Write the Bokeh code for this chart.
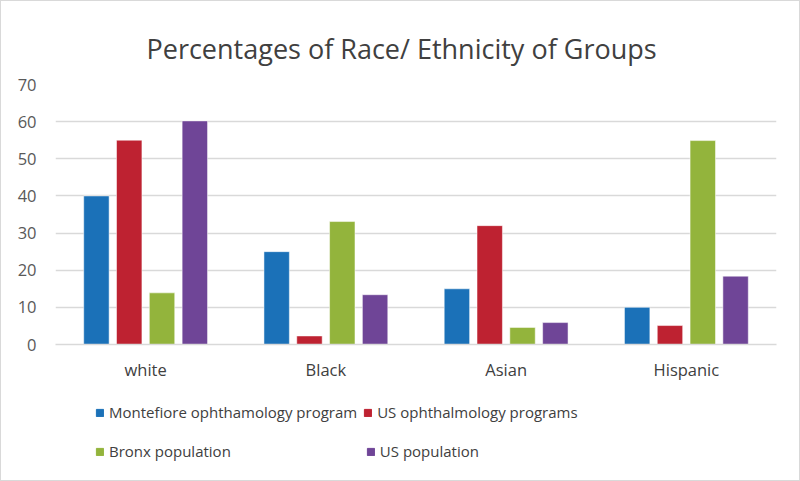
from bokeh.plotting import figure
from bokeh.layouts import column
from bokeh.models import Legend, LegendItem, FactorRange, Range1d
from bokeh.transform import dodge
from bokeh.embed import file_html
from bokeh.resources import INLINE
from bokeh.models import ColumnDataSource

categories = ["white", "Black", "Asian", "Hispanic"]
montefiore = [40, 25, 15, 10]
us_programs = [55, 2.3, 32, 5.1]
bronx = [13.9, 33.1, 4.6, 54.9]
us_population = [60.2, 13.4, 5.9, 18.4]
y_ticks = [0, 10, 20, 30, 40, 50, 60, 70]

series = [
    ("Montefiore ophthamology program", "m", "#1b71b8", -0.273),
    ("US ophthalmology programs", "u", "#be2231", -0.091),
    ("Bronx population", "b", "#93b43c", 0.091),
    ("US population", "p", "#6f4597", 0.273),
]

src = ColumnDataSource(dict(cat=categories, m=montefiore, u=us_programs,
                            b=bronx, p=us_population))

FONT = "Open Sans"
BORDER = "1px solid #d9d9d9"
p = figure(width=800, height=400,
           x_range=FactorRange(*categories, range_padding=0, factor_padding=0),
           y_range=Range1d(0, 70), output_backend="svg", toolbar_location=None,
           min_border_left=54, min_border_right=25, min_border_top=83,
           min_border_bottom=57)
p.styles = {"border-top": BORDER, "border-left": BORDER, "border-right": BORDER,
            "box-sizing": "border-box"}

p.title.text = "Percentages of Race/ Ethnicity of Groups"
p.title.text_font = FONT
p.title.text_font_size = "27px"
p.title.text_font_style = "normal"
p.title.text_color = "#404040"
p.title.align = "left"
p.title.offset = 91
p.title.standoff = 36

for name, col, color, off in series:
    p.vbar(x=dodge("cat", off, range=p.x_range), top=col, width=0.141,
           source=src, fill_color=color, line_color="white", line_alpha=0.5,
           line_width=1)

p.xgrid.grid_line_color = None
p.ygrid.grid_line_color = "#d9d9d9"
p.ygrid.grid_line_width = 1.5
p.yaxis.ticker = y_ticks
p.yaxis.axis_line_color = None
p.yaxis.major_tick_line_color = None
p.yaxis.minor_tick_line_color = None
p.yaxis.major_tick_out = 0
p.yaxis.major_label_standoff = 19
p.yaxis.major_label_text_font = FONT
p.yaxis.major_label_text_font_size = "16.5px"
p.yaxis.major_label_text_color = "#595959"

p.xaxis.axis_line_color = "#d9d9d9"
p.xaxis.axis_line_width = 1.5
p.xaxis.major_tick_line_color = None
p.xaxis.minor_tick_line_color = None
p.xaxis.major_tick_out = 0
p.xaxis.major_label_standoff = 13
p.xaxis.major_label_text_font = FONT
p.xaxis.major_label_text_font_size = "16.5px"
p.xaxis.major_label_text_color = "#404040"
p.outline_line_color = None

# legend strip below the chart
lp = figure(width=800, height=81, x_range=Range1d(0, 800), y_range=Range1d(0, 81),
            output_backend="svg", toolbar_location=None,
            x_axis_type=None, y_axis_type=None, min_border=0)
lp.styles = {"border-bottom": BORDER, "border-left": BORDER, "border-right": BORDER,
             "box-sizing": "border-box"}
lp.xgrid.grid_line_color = None
lp.ygrid.grid_line_color = None
lp.outline_line_color = None

legend_renderers = []
for name, col, color, off in series:
    dummy = ColumnDataSource(dict(x=[0], top=[0]))
    r = lp.vbar(x="x", top="top", width=0, source=dummy,
                fill_color=color, line_color=color)
    legend_renderers.append((name, r))


def make_legend(items, spacing, loc):
    lg = Legend(items=[LegendItem(label=n, renderers=[r]) for n, r in items],
                orientation="horizontal", location=loc)
    lg.label_text_font = FONT
    lg.label_text_font_size = "15px"
    lg.label_text_color = "#404040"
    lg.glyph_width = 9
    lg.glyph_height = 9
    lg.label_standoff = 5
    lg.spacing = spacing
    lg.border_line_color = None
    lg.background_fill_alpha = 0
    lg.padding = 0
    lg.margin = 0
    return lg


lp.add_layout(make_legend(legend_renderers[:2], 6, (40, 59)), "center")
lp.add_layout(make_legend(legend_renderers[2:], 135, (40, 20)), "center")

layout = column(p, lp, spacing=0)
open("out.html", "w").write(file_html(layout, INLINE))
